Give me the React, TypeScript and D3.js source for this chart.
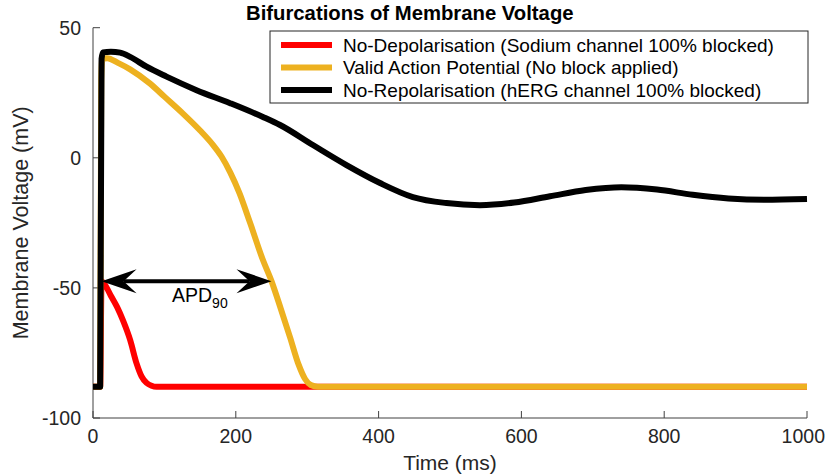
import React from "react";
import * as d3 from "d3";

// Simulated membrane voltage traces (time in ms, voltage in mV)
const noDepolT = [0, 10, 12, 16, 25, 34, 42, 52, 61, 68, 75, 82, 89, 100, 1000];
const noDepolV = [-88, -88, -47.4, -48.5, -53, -57.5, -62.5, -70, -79, -84, -86.5, -87.6, -88, -88, -88];

const validT = [0, 10, 11.5, 13, 20, 35, 52, 80, 100, 126, 150, 168, 180, 192, 205, 220, 238, 250, 263, 276, 288, 297, 305, 315, 1000];
const validV = [-88, -88, 30, 38, 38.3, 36.5, 34, 28.5, 23.5, 17, 10.5, 5, 0.5, -5.5, -13.5, -25, -39.3, -47.4, -58, -69, -79.5, -85, -87.3, -88, -88];

const noRepolT = [0, 10, 12, 14, 25, 38, 52, 75, 103, 145, 192, 238, 262, 308, 355, 402, 448, 495, 542, 590, 640, 690, 740, 790, 840, 890, 940, 1000];
const noRepolV = [-88, -88, 38, 40.5, 40.8, 40.4, 38.8, 35, 31.2, 26, 21, 15.7, 12.6, 4.9, -2.8, -9.7, -15.1, -17.4, -18.2, -17.2, -14.8, -12.4, -11.3, -12.2, -14.2, -15.6, -16.1, -15.8];

const seriesNames = [
  "No-Depolarisation (Sodium channel 100% blocked)",
  "Valid Action Potential (No block applied)",
  "No-Repolarisation (hERG channel 100% blocked)",
];
const seriesColors = ["#ff0000", "#edb120", "#000000"];

const xTicks = [0, 200, 400, 600, 800, 1000];
const yTicks = [-100, -50, 0, 50];

// APD90 marker: start / end time and voltage level
const apdStart = 12;
const apdEnd = 250;
const apdLevel = -47.4;

const W = 827;
const H = 474;
const FONT = "'Liberation Sans', Arial, Helvetica, sans-serif";

export default function App() {
  const x = d3.scaleLinear().domain([0, 1000]).range([93, 807]);
  const y = d3.scaleLinear().domain([-100, 50]).range([418, 27.7]);

  const line = d3
    .line<[number, number]>()
    .x((d) => x(d[0]))
    .y((d) => y(d[1]))
    .curve(d3.curveMonotoneX);

  const series = [
    noDepolT.map((t, i) => [t, noDepolV[i]] as [number, number]),
    validT.map((t, i) => [t, validV[i]] as [number, number]),
    noRepolT.map((t, i) => [t, noRepolV[i]] as [number, number]),
  ];

  const axisColor = "#404040";
  const textColor = "#262626";
  const x0 = x(0);
  const y0 = y(-100);

  const ax1 = x(apdStart);
  const ax2 = x(apdEnd);
  const ay = y(apdLevel);
  const headL = 35;
  const headH = 12;
  const notch = 22;

  const legendX = 270;
  const legendY = 31;
  const legendW = 538;
  const legendH = 72;
  const rowY = [45, 67.5, 90];

  return (
    <svg
      width={W}
      height={H}
      style={{ position: "absolute", left: 0, top: 0, background: "#fff" }}
      fontFamily={FONT}
    >
      <rect x={0} y={0} width={W} height={H} fill="#fff" />

      {/* axes */}
      <line x1={x0} y1={y(50)} x2={x0} y2={y0} stroke={axisColor} strokeWidth={1} />
      <line x1={x0} y1={y0} x2={x(1000)} y2={y0} stroke={axisColor} strokeWidth={1} />
      {yTicks.map((v) => (
        <g key={"y" + v}>
          <line x1={x0} x2={x0 + 7} y1={y(v)} y2={y(v)} stroke={axisColor} />
          <text x={x0 - 12} y={y(v)} dy="0.35em" textAnchor="end" fontSize={19.5} fill={textColor}>
            {v}
          </text>
        </g>
      ))}
      {xTicks.map((v) => {
        // keep the last label inside the figure edge
        const last = x(v) + 24 > W;
        return (
          <g key={"x" + v}>
            <line x1={x(v)} x2={x(v)} y1={y0} y2={y0 - 7} stroke={axisColor} />
            <text
              x={last ? W - 2 : x(v)}
              y={y0 + 25}
              textAnchor={last ? "end" : "middle"}
              fontSize={19.5}
              fill={textColor}
            >
              {v}
            </text>
          </g>
        );
      })}
      <text x={450} y={470} textAnchor="middle" fontSize={21} fill={textColor}>
        Time (ms)
      </text>
      <text
        transform={`translate(28, ${(y(50) + y0) / 2}) rotate(-90)`}
        textAnchor="middle"
        fontSize={21.5}
        fill={textColor}
      >
        Membrane Voltage (mV)
      </text>
      <text x={246} y={20} fontSize={20.3} fontWeight="bold" fill="#000">
        Bifurcations of Membrane Voltage
      </text>

      {/* traces */}
      {series.map((d, i) => (
        <path
          key={"s" + i}
          d={line(d) || ""}
          fill="none"
          stroke={seriesColors[i]}
          strokeWidth={6}
          strokeLinejoin="round"
        />
      ))}

      {/* APD90 arrow */}
      <line x1={ax1 + notch} x2={ax2 - notch} y1={ay} y2={ay} stroke="#000" strokeWidth={4} />
      <path
        d={`M${ax1},${ay} L${ax1 + headL},${ay - headH} L${ax1 + notch},${ay} L${ax1 + headL},${ay + headH} Z`}
        fill="#000"
      />
      <path
        d={`M${ax2},${ay} L${ax2 - headL},${ay - headH} L${ax2 - notch},${ay} L${ax2 - headL},${ay + headH} Z`}
        fill="#000"
      />
      <text x={172} y={302} fontSize={19.5} fill="#000">
        APD
        <tspan fontSize={14} dy={6}>
          90
        </tspan>
      </text>

      {/* legend */}
      <rect x={legendX} y={legendY} width={legendW} height={legendH} fill="#fff" stroke={textColor} strokeWidth={1} />
      {seriesNames.map((name, i) => (
        <g key={"l" + i}>
          <line x1={281} x2={332} y1={rowY[i]} y2={rowY[i]} stroke={seriesColors[i]} strokeWidth={6} />
          <text x={343} y={rowY[i]} dy="0.35em" fontSize={19} fill="#000">
            {name}
          </text>
        </g>
      ))}
    </svg>
  );
}
